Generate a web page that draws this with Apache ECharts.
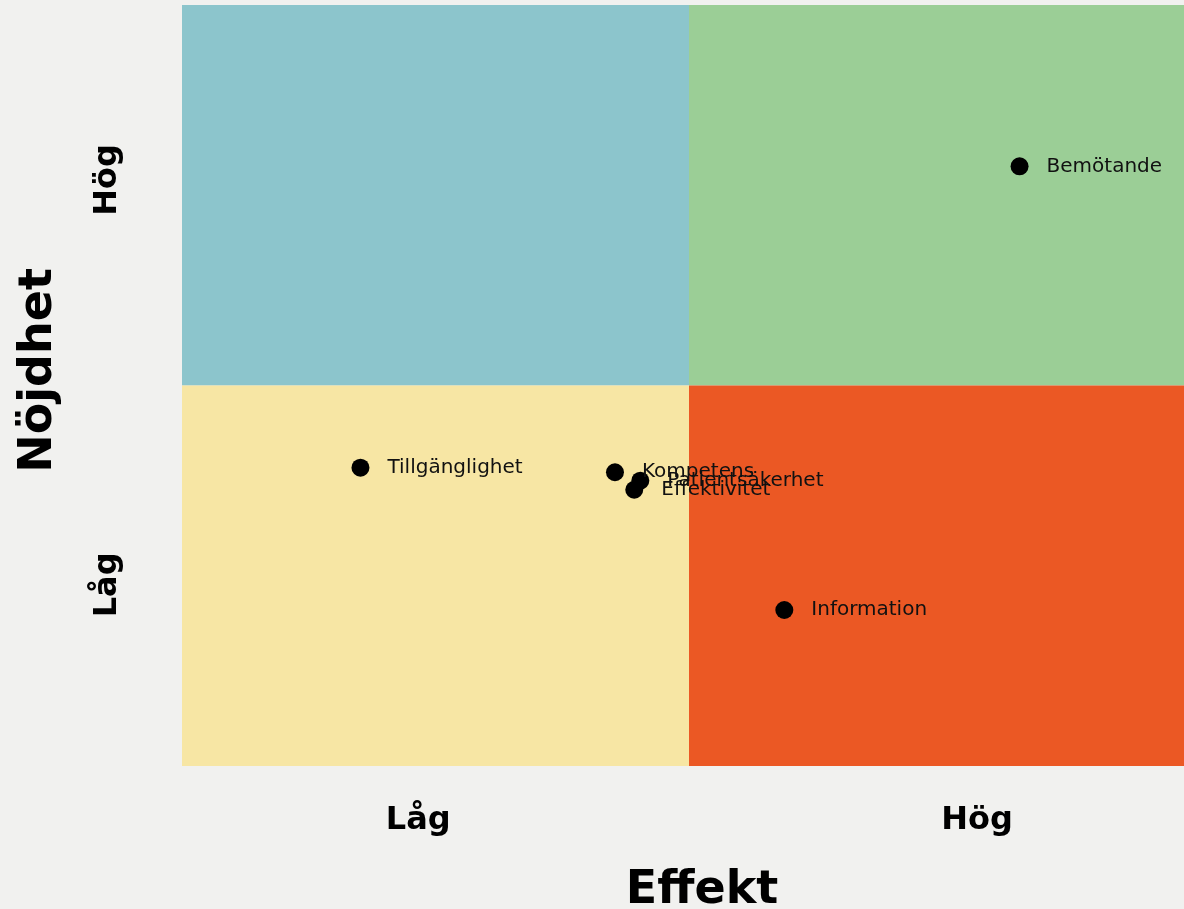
<!DOCTYPE html>
<html>
<head>
<meta charset="utf-8">
<script src="https://cdn.jsdelivr.net/npm/echarts@6/dist/echarts.min.js"></script>
<style>
html,body{margin:0;padding:0;background:#f1f1ef;}
#chart{width:1184px;height:909px;}
</style>
</head>
<body>
<div id="chart"></div>
<script>
// ---- data ----
const names = ['Tillgänglighet', 'Kompetens', 'Patientsäkerhet', 'Effektivitet', 'Information', 'Bemötande'];
const effekt = [17.6, 42.7, 45.2, 44.6, 59.4, 82.6];
const nojdhet = [39.2, 38.6, 37.5, 36.3, 20.5, 78.8];
const xTickValues = [23.3, 78.4];
const xTickLabels = ['Låg', 'Hög'];
const yTickValues = [23.8, 77.0];
const yTickLabels = ['Låg', 'Hög'];
const axisMin = 0, axisMax = 100, xMid = 50, yMid = 50;
const quadrantColors = { topLeft: '#8cc5cc', topRight: '#9bce96', bottomLeft: '#f7e6a4', bottomRight: '#eb5824' };

const points = names.map((n, i) => ({ name: n, value: [effekt[i], nojdhet[i]] }));

const chart = echarts.init(document.getElementById('chart'));
const labelFont = 'DejaVu Sans';
chart.setOption({
  backgroundColor: '#f1f1ef',
  animation: false,
  grid: { left: 182, top: 5, right: -12, bottom: 143, containLabel: false, outerBoundsMode: 'none' },
  xAxis: {
    type: 'value', min: axisMin, max: axisMax,
    splitLine: { show: false }, axisLine: { show: false }, axisTick: { show: false },
    axisLabel: {
      customValues: xTickValues,
      formatter: v => xTickLabels[xTickValues.indexOf(v)] || '',
      fontFamily: labelFont, fontWeight: 'bold', fontSize: 32, color: '#000', margin: 39
    },
    name: 'Effekt', nameLocation: 'middle', nameGap: 102,
    nameTextStyle: { fontFamily: labelFont, fontWeight: 'bold', fontSize: 46, color: '#000', padding: [0, 0, 0, 26] }
  },
  yAxis: {
    type: 'value', min: axisMin, max: axisMax,
    splitLine: { show: false }, axisLine: { show: false }, axisTick: { show: false },
    axisLabel: {
      customValues: yTickValues,
      formatter: v => yTickLabels[yTickValues.indexOf(v)] || '',
      rotate: 90,
      fontFamily: labelFont, fontWeight: 'bold', fontSize: 32, color: '#000', margin: 58
    },
    name: 'Nöjdhet', nameLocation: 'middle', nameGap: 120, nameRotate: 90,
    nameTextStyle: { fontFamily: labelFont, fontWeight: 'bold', fontSize: 46, color: '#000', padding: [0, 0, 0, 30] }
  },
  series: [{
    type: 'scatter',
    data: points,
    symbol: 'circle', symbolSize: 18,
    itemStyle: { color: '#000', opacity: 1 },
    label: {
      show: true, position: 'right', distance: 18,
      formatter: p => p.name,
      fontFamily: labelFont, fontSize: 20, color: '#111', opacity: 1
    },
    z: 5,
    markArea: {
      silent: true,
      data: [
        [{ coord: [axisMin, yMid], itemStyle: { color: quadrantColors.topLeft } }, { coord: [xMid, axisMax] }],
        [{ coord: [xMid, yMid], itemStyle: { color: quadrantColors.topRight } }, { coord: [axisMax, axisMax] }],
        [{ coord: [axisMin, axisMin], itemStyle: { color: quadrantColors.bottomLeft } }, { coord: [xMid, yMid] }],
        [{ coord: [xMid, axisMin], itemStyle: { color: quadrantColors.bottomRight } }, { coord: [axisMax, yMid] }]
      ].map(a => { a[0].itemStyle.opacity = 1; return a; })
    }
  }]
});
</script>
</body>
</html>
